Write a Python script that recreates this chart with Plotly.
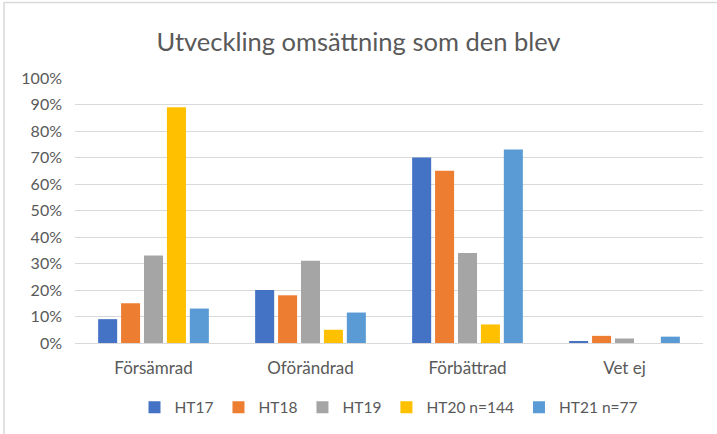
import plotly.graph_objs as go

categories = ["Försämrad", "Oförändrad", "Förbättrad", "Vet ej"]
series_names = ["HT17", "HT18", "HT19", "HT20 n=144", "HT21 n=77"]
ht17 = [0.09, 0.20, 0.70, 0.007]
ht18 = [0.15, 0.18, 0.65, 0.027]
ht19 = [0.33, 0.31, 0.34, 0.017]
ht20 = [0.89, 0.05, 0.07, 0.0]
ht21 = [0.13, 0.115, 0.73, 0.024]
y_ticks = [0, 0.1, 0.2, 0.3, 0.4, 0.5, 0.6, 0.7, 0.8, 0.9, 1.0]

colors = ["#4472C4", "#ED7D31", "#A5A5A5", "#FFC000", "#5B9BD5"]
font = "Lato"
grey = "#595959"

fig = go.Figure()
for name, vals, col in zip(series_names, [ht17, ht18, ht19, ht20, ht21], colors):
    fig.add_trace(go.Bar(name=name, x=categories, y=vals, marker_color=col,
                         marker_line_width=0))

fig.update_layout(
    width=717, height=434,
    margin=dict(l=75, r=14, t=78, b=91, autoexpand=False),
    paper_bgcolor="white", plot_bgcolor="white",
    barmode="group", bargap=0.27, bargroupgap=0.17,
    title=dict(text="Utveckling omsättning som den blev", x=0.5, xanchor="center",
               y=0.903, yanchor="middle",
               font=dict(family=font, size=25.5, color=grey)),
    font=dict(family=font, size=16, color=grey),
    legend=dict(orientation="h", x=0.5, xanchor="center", y=-0.244, yanchor="middle",
                font=dict(family=font, size=15.5, color=grey), itemwidth=30,
                tracegroupgap=0),
    xaxis=dict(showline=True, linecolor="#d9d9d9", linewidth=1, ticks="",
               ticklabelstandoff=10, tickfont=dict(size=17, color=grey)),
    yaxis=dict(range=[0, 1.0], tickvals=y_ticks, tickformat=".0%",
               showgrid=True, gridcolor="#d9d9d9", gridwidth=1,
               zeroline=False, ticks="", ticklabelstandoff=12,
               tickfont=dict(size=16, color=grey)),
    shapes=[dict(type="rect", xref="paper", yref="paper",
                 x0=-0.113, x1=1.2, y0=-0.5, y1=1.285,
                 line=dict(color="#d9d9d9", width=1.5), layer="below")],
)

# the page body has a default 8px margin; drop it so the figure sits at 0,0
fig.write_html("out.html", config={"displayModeBar": False},
               post_script="document.body.style.margin='0';")
